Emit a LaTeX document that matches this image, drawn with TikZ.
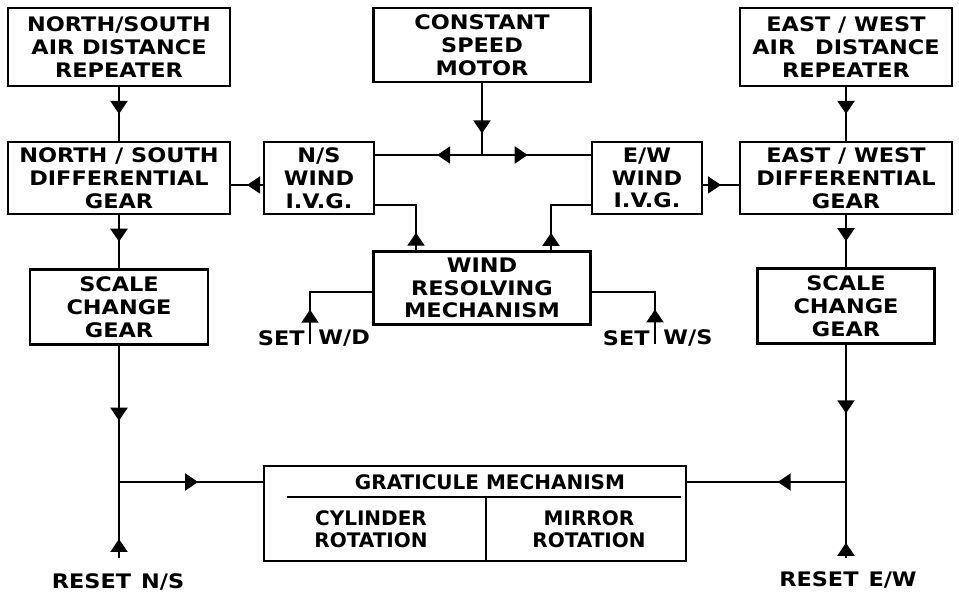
\documentclass[tikz,border=0pt]{standalone}
\usepackage{fontspec}
\setmainfont{DejaVu Sans}
\newfontfamily\widefont[FakeStretch=1.12]{DejaVu Sans}
\usetikzlibrary{arrows.meta, decorations.markings}

\begin{document}
\begin{tikzpicture}[
        x=0.5pt, y=-0.5pt,
        box/.style={draw, line width=1.2pt, rectangle, inner sep=0pt, align=center, font=\widefont\fontsize{10}{11.4}\selectfont\bfseries},
        lbl/.style={inner sep=0pt, align=center, font=\widefont\fontsize{10}{11.4}\selectfont\bfseries},
        gratlbl/.style={inner sep=0pt, align=center, font=\fontsize{10}{11}\selectfont\bfseries},
        link/.style={line width=1pt},
        flow/.style={link, postaction={decorate}, decoration={markings, mark=at position #1 with {\arrow{Triangle[length=6.5pt, width=8.5pt]}}}},
        flow/.default=0.5
    ]
        \useasboundingbox (0,0) rectangle (959,597);

        % Nodes
        \node (nsrep) [box, minimum width=111pt, minimum height=39pt] at (119,47) {NORTH/SOUTH\\AIR DISTANCE\\REPEATER};
        \node (motor) [box, minimum width=108.5pt, minimum height=37pt] at (482,45) {CONSTANT\\SPEED\\MOTOR};
        \node (ewrep) [box, minimum width=106pt, minimum height=39pt] at (846,47) {EAST / WEST\\AIR\quad DISTANCE\\REPEATER};
        \node (nsdiff) [box, minimum width=111pt, minimum height=36pt] at (119,178) {NORTH / SOUTH\\DIFFERENTIAL\\GEAR};
        \node (nsivg) [box, minimum width=55pt, minimum height=36pt] at (319,178) {N/S\\WIND\\I.V.G.};
        \node (ewivg) [box, minimum width=55pt, minimum height=36pt] at (647,178) {E/W\\WIND\\I.V.G.};
        \node (ewdiff) [box, minimum width=106pt, minimum height=36pt] at (846,178) {EAST / WEST\\DIFFERENTIAL\\GEAR};
        \node (wrm) [box, minimum width=108.5pt, minimum height=36.5pt] at (482,288) {WIND\\RESOLVING\\MECHANISM};
        \node (nsscale) [box, minimum width=89pt, minimum height=37.5pt] at (119,307) {SCALE\\CHANGE\\GEAR};
        \node (ewscale) [box, minimum width=88.5pt, minimum height=37.5pt] at (846,306) {SCALE\\CHANGE\\GEAR};

        % Graticule block
        \node (grat) [box, minimum width=211pt, minimum height=47.5pt] at (475,513.5) {};
        \node (grattitle) [gratlbl] at (490,482) {GRATICULE MECHANISM};
        \node (cyl) [gratlbl] at (371,529) {CYLINDER\\ROTATION};
        \node (mir) [gratlbl] at (589,529) {MIRROR\\ROTATION};
        \draw[link] (287,497) -- (681,497);
        \draw[link] (486,497) -- (486,561);

        % Junctions and free ends
        \coordinate (mj) at (482,155);
        \coordinate (wl) at (416,252);
        \coordinate (wr) at (551,252);
        \coordinate (setwd) at (310,344);
        \coordinate (setws) at (655,344);
        \coordinate (jns) at (119,482);
        \coordinate (jew) at (846,482);
        \coordinate (resetns) at (119,558);
        \coordinate (resetew) at (846,558);

        % Labels
        \node (setwdtxt) [lbl, anchor=east] at (305,338) {SET};
        \node (wdtxt) [lbl, anchor=west] at (318,338) {W/D};
        \node (setwstxt) [lbl, anchor=east] at (650,338) {SET};
        \node (wstxt) [lbl, anchor=west] at (663,338) {W/S};
        \node (resetnstxt) [lbl] at (118,582) {RESET\enspace N/S};
        \node (resetewtxt) [lbl] at (848,580) {RESET\enspace E/W};

        % Paths
        \draw[flow] (nsrep) -- (nsdiff);
        \draw[flow] (ewrep) -- (ewdiff);
        \draw[flow=0.7] (motor) -- (mj);
        \draw[flow=0.42] (mj) -- (nsivg.east |- mj);
        \draw[flow=0.42] (mj) -- (ewivg.west |- mj);
        \draw[flow] ([yshift=-3.5pt]nsivg.west) -- ([yshift=-3.5pt]nsdiff.east);
        \draw[flow] ([yshift=-3.5pt]ewivg.east) -- ([yshift=-3.5pt]ewdiff.west);
        \draw[flow=0.22] (wl) |- ([yshift=-13.5pt]nsivg.east);
        \draw[flow=0.22] (wr) |- ([yshift=-13.5pt]ewivg.west);
        \draw[flow=0.3] (setwd) |- ([yshift=-2pt]wrm.west);
        \draw[flow=0.3] (setws) |- ([yshift=-2pt]wrm.east);
        \draw[flow] (nsdiff) -- (nsscale);
        \draw[flow] (ewdiff) -- (ewscale);
        \draw[flow=0.55] (nsscale) -- (jns);
        \draw[flow=0.55] (jns) -- (grat.west |- jns);
        \draw[flow=0.25] (resetns) -- (jns);
        \draw[flow=0.5] (ewscale) -- (jew);
        \draw[flow=0.43] (jew) -- (grat.east |- jew);
        \draw[flow=0.2] (resetew) -- (jew);
    \end{tikzpicture}
\end{document}
